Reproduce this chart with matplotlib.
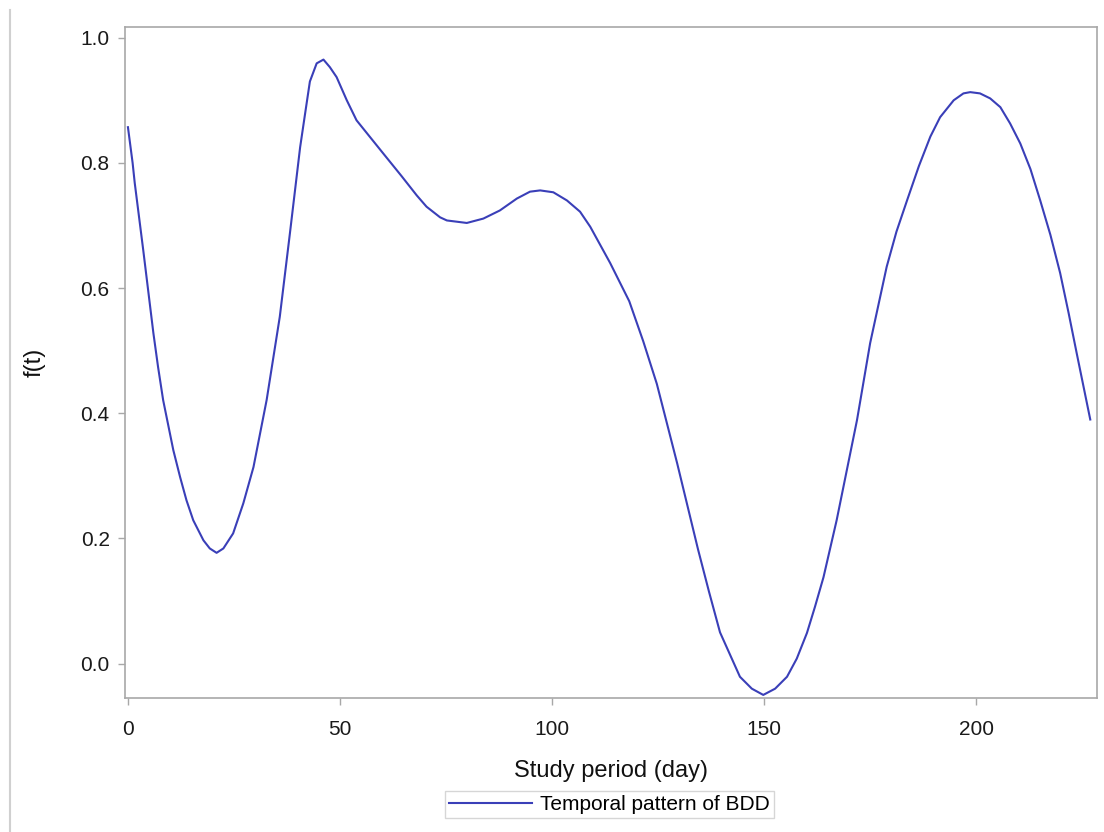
import matplotlib
matplotlib.use("Agg")
import matplotlib.pyplot as plt
from matplotlib.lines import Line2D

plt.rcParams['font.family'] = ['Liberation Sans', 'DejaVu Sans']

# Puntos (día, f(t))
dia = [0, 1.1, 1.6, 3.6, 6.0, 7.1, 8.3, 9.5, 10.7, 12.3, 13.8, 15.4, 17.8,
       19.3, 20.9, 22.5, 24.8, 27.2, 29.6, 32.7, 35.8, 38.2, 40.6, 41.8, 42.9,
       44.5, 46.1, 47.6, 49.2, 51.6, 53.9, 60.2, 64.5, 68.1, 70.4, 73.6, 75.2,
       79.9, 83.8, 87.7, 91.7, 94.8, 97.2, 100.3, 103.5, 106.6, 109.0, 113.7,
       118.2, 121.5, 124.7, 129.5, 134.4, 137.0, 139.6, 144.3, 147.1, 149.8,
       152.6, 155.4, 157.7, 160.1, 162.0, 164.0, 167.1, 169.5, 171.9, 175.0,
       178.9, 181.2, 183.7, 186.5, 189.2, 191.5, 194.7, 197.0, 198.6, 200.9,
       203.3, 205.7, 208.0, 210.4, 212.8, 215.1, 217.5, 219.8, 221.8, 223.7,
       226.9]
ft = [0.857, 0.800, 0.768, 0.661, 0.528, 0.474, 0.421, 0.381, 0.341, 0.298,
      0.261, 0.229, 0.197, 0.184, 0.177, 0.184, 0.208, 0.256, 0.314, 0.421,
      0.554, 0.688, 0.825, 0.880, 0.930, 0.959, 0.965, 0.953, 0.937, 0.900,
      0.868, 0.815, 0.779, 0.748, 0.730, 0.713, 0.708, 0.704, 0.711, 0.724,
      0.743, 0.754, 0.756, 0.753, 0.740, 0.722, 0.698, 0.640, 0.579, 0.515,
      0.447, 0.320, 0.183, 0.115, 0.050, -0.021, -0.040, -0.050, -0.040,
      -0.021, 0.008, 0.049, 0.091, 0.138, 0.229, 0.309, 0.389, 0.512, 0.634,
      0.690, 0.740, 0.795, 0.842, 0.873, 0.900, 0.911, 0.913, 0.911, 0.903,
      0.889, 0.863, 0.831, 0.790, 0.740, 0.685, 0.624, 0.560, 0.496, 0.390]

xticks = [0, 50, 100, 150, 200]
yticks = [0.0, 0.2, 0.4, 0.6, 0.8, 1.0]

fig = plt.figure(figsize=(11.04, 8.32), dpi=100)
ax = fig.add_axes([0.1132, 0.161, 0.8805, 0.8065])

ax.plot(dia, ft, color='#3a3fb8', lw=1.5, label='Temporal pattern of BDD',
        solid_joinstyle='round')

ax.set_xlim(-0.7, 228.5)
ax.set_ylim(-0.055, 1.017)
ax.set_xticks(xticks)
ax.set_yticks(yticks)
ax.set_yticklabels([f"{v:.1f}" for v in yticks])

for s in ax.spines.values():
    s.set_color('#a8a8a8')
    s.set_linewidth(1.2)
ax.tick_params(axis='both', colors='#a8a8a8', labelcolor='#1a1a1a',
               labelsize=15, length=5, width=1)
ax.tick_params(axis='x', pad=11)
ax.tick_params(axis='y', pad=6)

ax.set_xlabel("Study period (day)", fontsize=17, color='#111111')
ax.set_ylabel("f(t)", fontsize=17, color='#111111')
ax.xaxis.set_label_coords(0.5, -0.092)
ax.yaxis.set_label_coords(-0.082, 0.5)

leg = fig.legend(loc='center', bbox_to_anchor=(0.552, 0.033), fontsize=15,
                 handlelength=4, frameon=True, fancybox=False,
                 borderpad=0.2, handletextpad=0.4, borderaxespad=0)
leg.get_frame().set_edgecolor('#cccccc')
leg.get_frame().set_linewidth(1)

# borde gris a la izquierda de la imagen
fig.add_artist(Line2D([0.009, 0.009], [0, 0.988], transform=fig.transFigure,
                      color='#d0d0d0', lw=1.5))

fig.savefig('out.png', dpi=100)
